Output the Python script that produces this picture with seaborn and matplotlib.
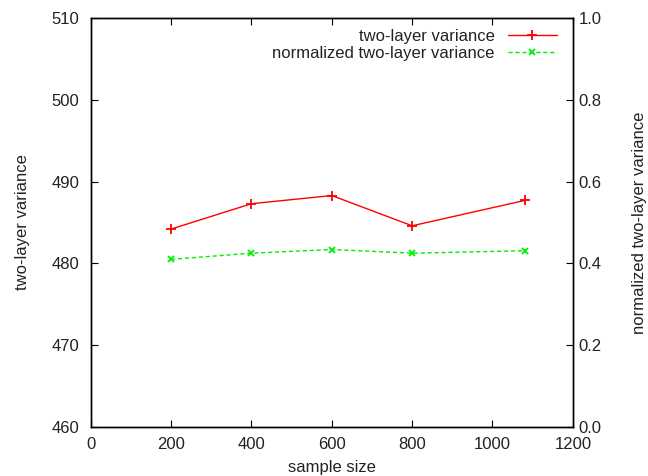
import matplotlib
matplotlib.use("Agg")
import matplotlib.pyplot as plt
import seaborn as sns
import pandas as pd

sample_size = [200, 400, 600, 800, 1080]
two_layer_variance = [484.2, 487.3, 488.3, 484.6, 487.7]
normalized_variance = [0.410, 0.425, 0.434, 0.425, 0.431]

sns.set_style("white")
plt.rcParams['font.family'] = ['Liberation Sans', 'DejaVu Sans']
plt.rcParams['font.size'] = 12
txt = "#222222"
plt.rcParams['text.color'] = txt
plt.rcParams['axes.labelcolor'] = txt

df = pd.DataFrame({"x": sample_size, "v": two_layer_variance, "n": normalized_variance})

fig = plt.figure(figsize=(6.48, 4.76), dpi=100)
ax = fig.add_axes([0.140, 0.103, 0.744, 0.859])
ax2 = ax.twinx()

sns.lineplot(data=df, x="x", y="v", ax=ax, color="#ff0000", lw=1, marker="+",
             markersize=7, markeredgewidth=1.3, markeredgecolor="#ff0000",
             label="two-layer variance", legend=False)
sns.lineplot(data=df, x="x", y="n", ax=ax2, color="#00ee00", lw=1, marker="x",
             markersize=5, markeredgewidth=1.3, markeredgecolor="#00ee00",
             linestyle=(0, (3, 2)),
             label="normalized two-layer variance", legend=False)

ax.set_xlim(0, 1200)
ax.set_ylim(460, 510)
ax2.set_ylim(0, 1.0)
ax.set_xticks(range(0, 1201, 200))
ax.set_yticks(range(460, 511, 10))
ax2.set_yticks([0, 0.2, 0.4, 0.6, 0.8, 1.0])
ax2.set_yticklabels([f"{v:.1f}" for v in [0, 0.2, 0.4, 0.6, 0.8, 1.0]])

ax.set_xlabel("sample size", labelpad=6)
ax.set_ylabel("two-layer variance", labelpad=16)
ax2.set_ylabel("normalized two-layer variance", labelpad=22)

for a in (ax, ax2):
    for s in a.spines.values():
        s.set_color("black")
        s.set_linewidth(1)
ax.tick_params(axis="x", direction="in", length=5, top=True, bottom=True, labelsize=12, pad=7, colors="black", labelcolor=txt)
ax.tick_params(axis="y", direction="in", length=5, left=True, right=False, labelsize=12, pad=8, colors="black", labelcolor=txt)
ax2.tick_params(axis="y", direction="in", length=5, right=True, left=False, labelsize=12, pad=4, colors="black", labelcolor=txt)

h1, l1 = ax.get_legend_handles_labels()
h2, l2 = ax2.get_legend_handles_labels()
ax2.legend(h1 + h2, l1 + l2, loc="upper right", frameon=False, markerfirst=False,
           handlelength=2.9, handletextpad=0.8, fontsize=12, borderaxespad=0.0, labelspacing=0.1,
           bbox_to_anchor=(0.98, 0.99))

fig.savefig("out.png", dpi=100)
